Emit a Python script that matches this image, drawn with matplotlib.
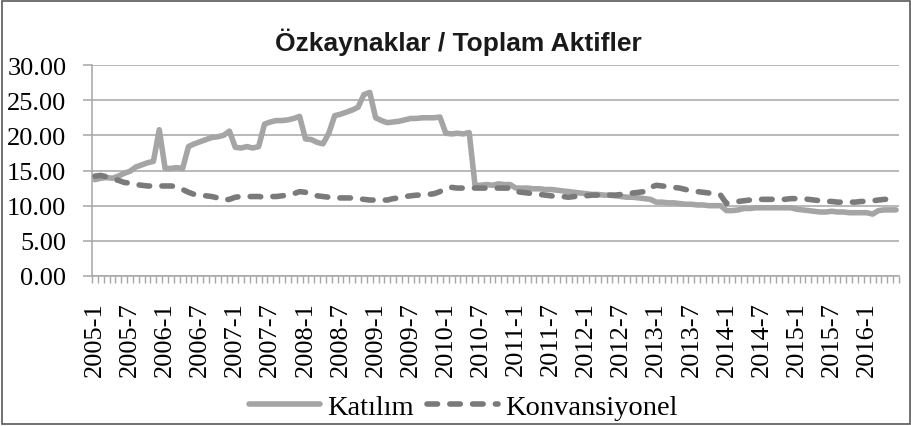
import matplotlib
matplotlib.use("Agg")
import matplotlib.pyplot as plt
from matplotlib.patches import Rectangle

# Monthly ratios, 2005-1 .. 2016-6
katilim = [13.7, 13.9, 14.0, 13.9, 14.2, 14.6, 14.9, 15.5, 15.8, 16.1, 16.3, 20.8,
           15.3, 15.3, 15.4, 15.3, 18.4, 18.8, 19.1, 19.4, 19.7, 19.8, 20.0, 20.6,
           18.3, 18.2, 18.4, 18.2, 18.4, 21.6, 21.9, 22.1, 22.1, 22.2, 22.4, 22.7,
           19.5, 19.4, 19.0, 18.8, 20.3, 22.8, 23.0, 23.3, 23.6, 24.0, 25.8, 26.1,
           22.5, 22.1, 21.8, 21.9, 22.0, 22.2, 22.4, 22.4, 22.5, 22.5, 22.5, 22.6,
           20.3, 20.2, 20.3, 20.2, 20.4, 12.9, 12.9, 13.0, 12.9, 13.1, 13.0, 13.0,
           12.5, 12.5, 12.5, 12.4, 12.4, 12.3, 12.3, 12.2, 12.1, 12.0, 11.9, 11.8,
           11.7, 11.6, 11.6, 11.5, 11.5, 11.4, 11.3, 11.2, 11.2, 11.1, 11.0, 10.9,
           10.5, 10.5, 10.4, 10.4, 10.3, 10.2, 10.2, 10.1, 10.1, 10.0, 10.0, 10.0,
           9.3, 9.3, 9.4, 9.6, 9.6, 9.7, 9.7, 9.7, 9.7, 9.7, 9.7, 9.7,
           9.5, 9.4, 9.3, 9.2, 9.1, 9.1, 9.2, 9.1, 9.1, 9.0, 9.0, 9.0,
           9.0, 8.8, 9.3, 9.4, 9.4, 9.4]

konvansiyonel = [14.2, 14.3, 14.1, 13.8, 13.6, 13.3, 13.2, 13.0, 12.9, 12.8, 12.8, 12.8,
                 12.8, 12.8, 12.7, 12.3, 11.9, 11.6, 11.5, 11.4, 11.3, 11.1, 10.8, 10.9,
                 11.2, 11.3, 11.3, 11.3, 11.3, 11.2, 11.3, 11.3, 11.4, 11.5, 11.7, 12.0,
                 11.9, 11.6, 11.4, 11.3, 11.2, 11.1, 11.1, 11.1, 11.1, 11.0, 10.9, 10.8,
                 10.8, 10.8, 10.8, 11.0, 11.1, 11.3, 11.4, 11.5, 11.5, 11.6, 11.7, 12.0,
                 12.5, 12.6, 12.5, 12.5, 12.5, 12.5, 12.5, 12.5, 12.5, 12.5, 12.5, 12.5,
                 12.0, 11.9, 11.8, 11.7, 11.6, 11.5, 11.4, 11.3, 11.3, 11.2, 11.3, 11.4,
                 11.4, 11.5, 11.5, 11.5, 11.5, 11.5, 11.6, 11.7, 11.8, 11.9, 12.0, 12.6,
                 12.9, 12.8, 12.7, 12.6, 12.5, 12.3, 12.1, 12.0, 11.9, 11.8, 11.7, 11.5,
                 10.3, 10.5, 10.6, 10.7, 10.8, 10.9, 10.9, 10.9, 10.9, 10.9, 10.9, 11.0,
                 11.0, 11.0, 10.9, 10.8, 10.7, 10.6, 10.6, 10.5, 10.5, 10.5, 10.5, 10.6,
                 10.6, 10.7, 10.8, 10.9, 10.9, 11.0]

months = [f"{2005 + i // 12}-{i % 12 + 1}" for i in range(len(katilim))]
y_ticks = [0, 5, 10, 15, 20, 25, 30]

serif = "Liberation Serif"
grid_col = "#a6a6a6"

fig = plt.figure(figsize=(9.12, 4.27), dpi=100)
ax = fig.add_axes([0.1009, 0.3513, 0.8848, 0.4941])

x = list(range(len(months)))
ax.plot(x, katilim, color="#a5a5a5", lw=4.0, solid_capstyle="round",
        solid_joinstyle="round", label="Katılım", zorder=3)
ax.plot(x, konvansiyonel, color="#7a7a7a", lw=4.0, linestyle=(0, (1.9, 2.2)),
        dash_capstyle="round", dash_joinstyle="round", label="Konvansiyonel", zorder=3)

ax.set_xlim(-0.5, len(months) - 0.5)
ax.set_ylim(0, 30)

# y axis
ax.set_yticks(y_ticks)
ax.set_yticklabels([f"{v:.2f}" for v in y_ticks], fontfamily=serif, fontsize=19)
ax.yaxis.grid(True, color=grid_col, lw=1.1)
ax.tick_params(axis="y", length=6.5, width=1.1, color=grid_col, pad=12)

# x axis: a label every 6 months, a tick between every month
ax.set_xticks(x[::6])
ax.set_xticklabels(months[::6], rotation=90, fontfamily=serif, fontsize=19)
ax.set_xticks([i - 0.5 for i in range(len(months) + 1)], minor=True)
ax.tick_params(axis="x", which="major", length=0, pad=18)
ax.tick_params(axis="x", which="minor", length=5, width=1.0, color=grid_col)

for side in ["top", "right"]:
    ax.spines[side].set_visible(False)
for side in ["left", "bottom"]:
    ax.spines[side].set_color(grid_col)
    ax.spines[side].set_linewidth(1.1)
ax.set_axisbelow(True)

fig.text(0.503, 0.9, "Özkaynaklar / Toplam Aktifler", ha="center", va="center",
         fontfamily="Liberation Sans", fontweight="bold", fontsize=19, color="#1a1a1a")

fig.legend(loc="center", bbox_to_anchor=(0.508, 0.045), ncol=2, frameon=False,
           prop={"family": serif, "size": 20.5}, handlelength=2.5,
           handletextpad=0.25, columnspacing=0.45)

# outer frame
fig.patches.append(Rectangle((0.002, 0.004), 0.996, 0.992, transform=fig.transFigure,
                             fill=False, edgecolor="#595959", lw=1.2))

fig.savefig("out.png", dpi=100)
